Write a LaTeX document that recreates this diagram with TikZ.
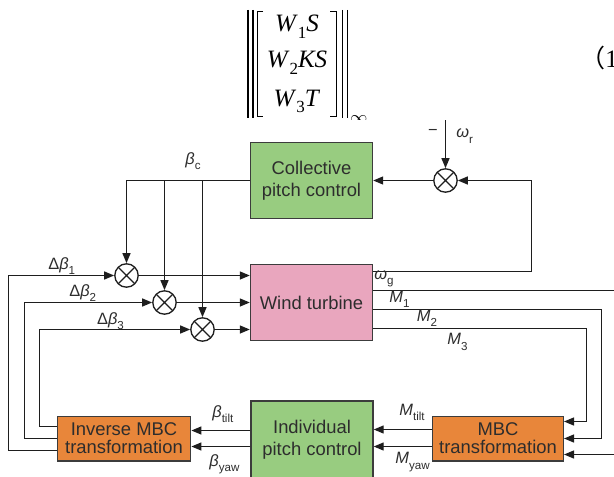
\documentclass[tikz,border=0pt]{standalone}
\usepackage{fontspec}
\setmainfont{Liberation Sans}
\newfontfamily\eqfont{Liberation Serif}
\newfontfamily\cjk{Noto Sans CJK SC}
\usetikzlibrary{arrows.meta,positioning,calc}
\definecolor{ctrlgreen}{RGB}{152,204,128}
\definecolor{turbpink}{RGB}{233,166,190}
\definecolor{mbcorange}{RGB}{232,134,58}
\definecolor{linegray}{RGB}{30,30,30}
\definecolor{boxgray}{RGB}{60,60,60}
\definecolor{txtgray}{RGB}{45,45,45}
\newcommand{\vsub}[2]{\textit{#1}\raisebox{-0.6ex}{\fontsize{5.8}{6}\selectfont #2}}
\newcommand{\wsub}[2]{\textit{#1}\raisebox{-0.55ex}{\fontsize{8.5}{9}\selectfont #2}}

\begin{document}
\begin{tikzpicture}[x=0.5pt,y=-0.5pt,
    blk/.style={draw=boxgray, line width=0.7pt, align=center, inner sep=0pt, text=txtgray, font=\fontsize{9.2}{11}\selectfont},
    mbcblk/.style={blk, fill=mbcorange, minimum height=22.3pt, font=\fontsize{9.2}{9}\selectfont},
    sumjn/.style={draw=linegray, circle, minimum size=11.7pt, inner sep=0pt, line width=0.65pt,
      path picture={\draw[linegray, line width=0.65pt]
        (path picture bounding box.north west) -- (path picture bounding box.south east)
        (path picture bounding box.north east) -- (path picture bounding box.south west);}},
    sig/.style={draw=linegray, line width=0.65pt, -{Triangle[length=5pt,width=4pt]}},
    lab/.style={inner sep=0pt, text=txtgray, font=\fontsize{8.2}{9}\selectfont}]
  \useasboundingbox (0,0) rectangle (614,476);

  % weighted norm (cut off)
  \begin{scope}[font=\eqfont\fontsize{12.5}{15}\selectfont]
    \clip (0,0) rectangle (614,119);
    \node[anchor=base] (row1) at (297,32) {\wsub{W}{1}\textit{S}};
    \node[anchor=base] (row2) at (297,68) {\wsub{W}{2}\textit{KS}};
    \node[anchor=base] (row3) at (297,106) {\wsub{W}{3}\textit{T}};
    \draw[line width=0.5pt] (263,12) -- (257,12) -- (257,116) -- (263,116);
    \draw[line width=0.5pt] (330,12) -- (336,12) -- (336,116) -- (330,116);
    \draw[line width=0.8pt] (248,10) -- (248,118) (253,10) -- (253,118);
    \draw[line width=0.8pt] (342.5,10) -- (342.5,118) (347.5,10) -- (347.5,118);
    \node[anchor=north west, inner sep=0pt, font=\fontsize{8}{8}\selectfont] (inf) at (350,115) {$\infty$};
    \node[anchor=base west, inner sep=0pt] (eqno) at (580,68) {{\cjk （}1};
  \end{scope}

  % blocks
  \node[blk, fill=ctrlgreen, minimum width=61pt, minimum height=38pt] (cpc) at (311.5,180.5) {Collective\\pitch control};
  \node[blk, fill=turbpink, minimum width=61pt, minimum height=38pt] (wt) at (311.5,302.5) {Wind turbine};
  \node[blk, fill=ctrlgreen, minimum width=61pt, minimum height=38.5pt] (ipc) at (312,439.5) {Individual\\pitch control};
  \node[mbcblk, minimum width=65.3pt] (mbc) at (498,438.5) {MBC\\transformation};
  \node[mbcblk, minimum width=66.7pt] (imbc) at (124,438.5) {Inverse MBC\\transformation};

  % summing junctions
  \node[sumjn] (sc) at (445.5,180.5) {};
  \node[sumjn] (s1) at (126.5,275.5) {};
  \node[sumjn] (s2) at (164.5,302.5) {};
  \node[sumjn] (s3) at (202.5,329.5) {};

  % collective loop
  \coordinate (wr) at (445.5,120);
  \draw[sig] (wr) -- (sc.north);
  \draw[sig] (sc.west) -- (sc.west -| cpc.east);
  \draw[sig] (wt.east |- 0,271.5) -| (531.5,180.5) -- (sc.east);
  \draw[sig] (cpc.west |- sc.west) -| (s1.north);
  \draw[sig] (s2.north |- sc.west) -- (s2.north);
  \draw[sig] (s3.north |- sc.west) -- (s3.north);

  % blade pitch into turbine
  \draw[sig] (s1.east) -- (s1.east -| wt.west);
  \draw[sig] (s2.east) -- (s2.east -| wt.west);
  \draw[sig] (s3.east) -- (s3.east -| wt.west);

  % blade moments to MBC
  \draw[sig] (wt.east |- 0,290.5) -- (620,290.5) -- (620,454.5) -- (mbc.east |- 0,454.5);
  \draw[sig] (wt.east |- 0,309.5) -| (601.5,438.5) -- (mbc.east);
  \draw[sig] (wt.east |- 0,328.5) -| (586.5,421.5) -- (mbc.east |- 0,421.5);

  % MBC -> IPC -> inverse MBC
  \draw[sig] (mbc.west |- 0,429.5) -- (ipc.east |- 0,429.5);
  \draw[sig] (mbc.west |- 0,446.5) -- (ipc.east |- 0,446.5);
  \draw[sig] (ipc.west |- 0,430.5) -- (imbc.east |- 0,430.5);
  \draw[sig] (ipc.west |- 0,446.5) -- (imbc.east |- 0,446.5);

  % inverse MBC back to junctions
  \draw[sig] (imbc.west |- 0,426.5) -| (39.5,329.5) -- (s3.west);
  \draw[sig] (imbc.west) -| (24.5,302.5) -- (s2.west);
  \draw[sig] (imbc.west |- 0,450.5) -| (8.5,275.5) -- (s1.west);

  % labels
  \node[lab, anchor=west] (lbc) at (185,161) {\vsub{β}{c}};
  \node[lab, anchor=east] (lmin) at (438,132) {−};
  \node[lab, anchor=west] (lwr) at (456,136) {\vsub{ω}{r}};
  \node[lab, anchor=west] (lwg) at (374,279) {\vsub{ω}{g}};
  \node[lab, anchor=west] (lm1) at (389,299) {\vsub{M}{1}};
  \node[lab, anchor=west] (lm2) at (416.5,318) {\vsub{M}{2}};
  \node[lab, anchor=west] (lm3) at (447,342) {\vsub{M}{3}};
  \node[lab, anchor=west] (ld1) at (48,266) {Δ\vsub{β}{1}};
  \node[lab, anchor=west] (ld2) at (69,293) {Δ\vsub{β}{2}};
  \node[lab, anchor=west] (ld3) at (96.7,321) {Δ\vsub{β}{3}};
  \node[lab, anchor=west] (lbt) at (212,414) {\vsub{β}{tilt}};
  \node[lab, anchor=west] (lby) at (209,464) {\vsub{β}{yaw}};
  \node[lab, anchor=west] (lmt) at (399,412) {\vsub{M}{tilt}};
  \node[lab, anchor=west] (lmy) at (395,462) {\vsub{M}{yaw}};
\end{tikzpicture}
\end{document}
